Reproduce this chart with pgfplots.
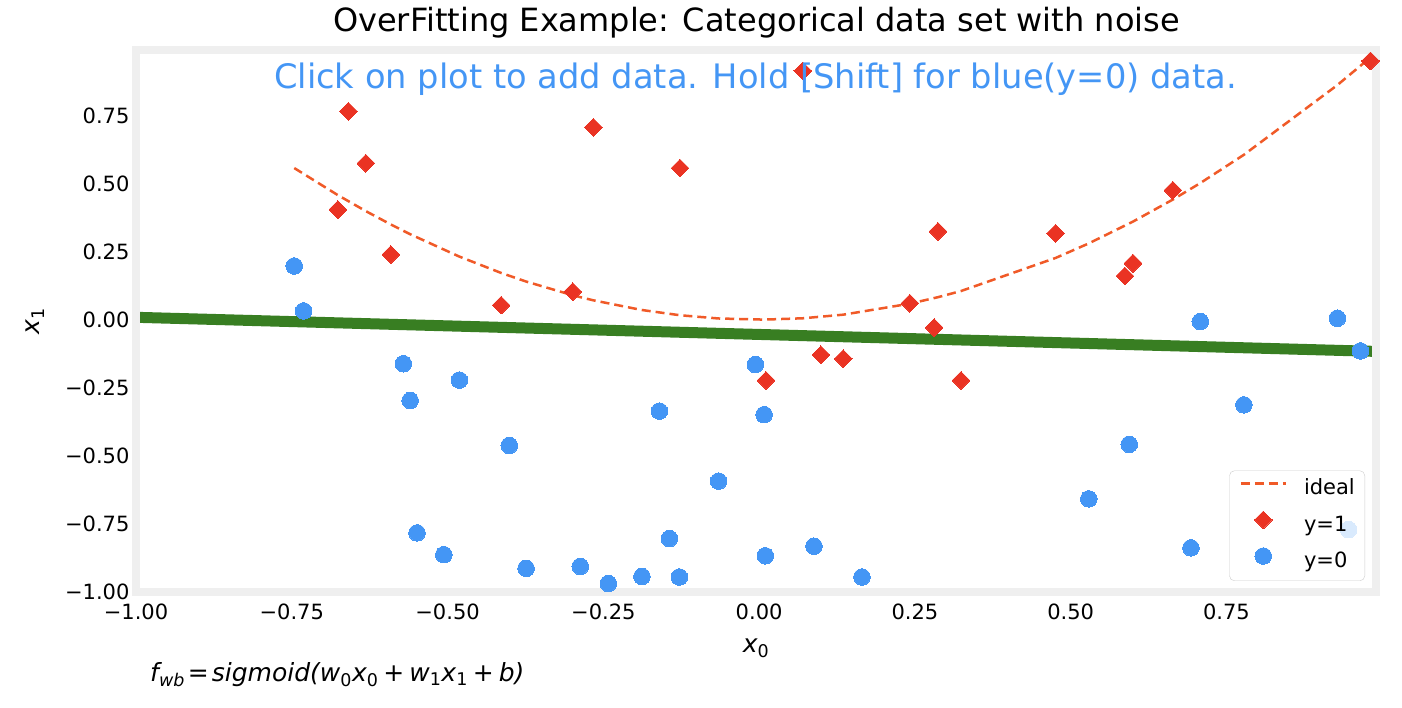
\documentclass[border=0pt]{standalone}
\usepackage{fontspec}
\setmainfont{DejaVu Sans}
\usepackage{pgfplots}
\pgfplotsset{compat=1.18}
\definecolor{ptblue}{HTML}{4496F5}
\definecolor{ptred}{HTML}{EA3323}
\definecolor{ptgreen}{HTML}{387E22}
\definecolor{ptorange}{HTML}{F05A28}
\definecolor{spine}{HTML}{EFEFEF}
\newcommand{\fs}[1]{\fontsize{#1}{#1}\selectfont}
\newcommand{\mi}[1]{{\itshape #1}}
\pgfplotsset{
  linelegend/.style={legend image code/.code={\draw[##1, draw opacity=1] (0pt,6pt) -- (45pt,6pt);}},
  marklegend/.style={legend image code/.code={\path[draw=none,fill=none] (0pt,6pt) -- (45pt,6pt); \draw[##1,only marks,fill opacity=1,draw opacity=1,mark repeat=2,mark phase=2] plot coordinates {(0pt,6pt) (22.5pt,6pt) (45pt,6pt)};}},
}

\pgfplotstableread{
x y
-0.659 0.765
-0.631 0.574
-0.676 0.404
-0.591 0.239
-0.414 0.053
-0.299 0.103
-0.266 0.706
-0.127 0.556
0.070 0.913
0.011 -0.223
0.099 -0.129
0.135 -0.143
0.242 0.060
0.281 -0.029
0.287 0.324
0.324 -0.223
0.476 0.317
0.587 0.160
0.600 0.207
0.664 0.475
0.981 0.950
}\posdata

\pgfplotstableread{
x y
-0.746 0.197
-0.731 0.032
-0.571 -0.162
-0.560 -0.297
-0.481 -0.222
-0.401 -0.462
-0.549 -0.783
-0.506 -0.863
-0.374 -0.913
-0.287 -0.906
-0.242 -0.969
-0.188 -0.943
-0.128 -0.945
-0.144 -0.804
-0.160 -0.336
-0.065 -0.593
-0.006 -0.165
0.008 -0.349
0.010 -0.867
0.088 -0.832
0.165 -0.945
0.529 -0.658
0.594 -0.458
0.693 -0.838
0.708 -0.007
0.778 -0.313
0.928 0.005
0.965 -0.115
0.946 -0.771
}\negdata

\pgfplotstableread{
x y
-0.746 0.5565
-0.676 0.4570
-0.631 0.3982
-0.591 0.3493
-0.560 0.3136
-0.481 0.2314
-0.414 0.1714
-0.374 0.1399
-0.299 0.0894
-0.266 0.0708
-0.188 0.0353
-0.127 0.0161
-0.065 0.0042
0.008 0.0001
0.070 0.0049
0.135 0.0182
0.242 0.0586
0.287 0.0824
0.324 0.1050
0.476 0.2266
0.529 0.2798
0.600 0.3600
0.664 0.4409
0.708 0.5013
0.778 0.6053
0.928 0.8612
0.981 0.9624
0.995 0.9900
}\ideal

\begin{document}
\begin{tikzpicture}
\useasboundingbox (-136pt,-116pt) rectangle (1266pt,592pt);
\begin{axis}[
  scale only axis, width=1240pt, height=542pt,
  at={(0pt,0pt)}, anchor=south west,
  xmin=-1, xmax=0.99, ymin=-1, ymax=0.99,
  axis on top,
  axis line style={draw=spine, line width=8pt},
  major tick length=0pt, tick style={draw=none},
  xtick={-1,-0.75,-0.5,-0.25,0,0.25,0.5,0.75},
  xticklabels={−1.00,−0.75,−0.50,−0.25,0.00,0.25,0.50,0.75},
  ytick={-1,-0.75,-0.5,-0.25,0,0.25,0.5,0.75},
  yticklabels={−1.00,−0.75,−0.50,−0.25,0.00,0.25,0.50,0.75},
  ticklabel style={font=\fs{21}},
  xticklabel style={yshift=-8pt},
  yticklabel style={xshift=-3pt},
  legend style={at={(0.99113,0.0203)}, anchor=south east,
    draw=black!20, rounded corners=5pt, fill=white, fill opacity=0.8, text opacity=1,
    font=\fs{21}, inner xsep=10pt, inner ysep=8.5pt, row sep=11.5pt,
    nodes={inner sep=0pt, text height=15.5pt, text depth=5pt},
    /tikz/every odd column/.style={column sep=17pt}},
  legend cell align=left,
]
\addplot[ptorange, line width=2.5pt, dash pattern=on 9pt off 5pt, linelegend]
  table[x=x,y=y] {\ideal};
\addlegendentry{ideal}
\addplot[only marks, mark=square*, mark size=6.2pt,
  mark options={rotate=45, draw=ptred, fill=ptred, line width=0pt}, marklegend]
  table[x=x,y=y] {\posdata};
\addlegendentry{y=1}
\addplot[only marks, mark=*, mark size=8.3pt,
  mark options={draw=ptblue, fill=ptblue, line width=0pt}, marklegend]
  table[x=x,y=y] {\negdata};
\addlegendentry{y=0}
\addplot[ptgreen, line width=11pt, forget plot] coordinates {(-1.02,0.0098) (1.01,-0.1179)};
\addplot[only marks, mark=square*, mark size=6.2pt, forget plot,
  mark options={rotate=45, draw=ptred, fill=ptred, line width=0pt}]
  table[x=x,y=y] {\posdata};
\end{axis}
\node[anchor=base, font=\fs{32}, inner sep=0pt] at (620.5pt,560.3pt) {OverFitting Example: Categorical data set with noise};
\node[anchor=base, font=\fs{33.7}, text=ptblue, inner sep=0pt] at (619.5pt,503.7pt) {Click on plot to add data. Hold [Shift] for blue(y=0) data.};
\node[anchor=base, font=\fs{25}, inner sep=0pt] at (620pt,-61pt) {\mi{x}\textsubscript{0}};
\node[anchor=base, font=\fs{25}, inner sep=0pt, rotate=90] at (-96pt,271pt) {\mi{x}\textsubscript{1}};
\node[anchor=base west, font=\fs{25}, inner sep=0pt] at (14pt,-89.7pt) {\mi{f}\textsubscript{\mi{wb}}\hspace{0.12em}=\hspace{0.12em}\mi{sigmoid(w}\textsubscript{0}\mi{x}\textsubscript{0}\hspace{0.2em}+\hspace{0.2em}\mi{w}\textsubscript{1}\mi{x}\textsubscript{1}\hspace{0.2em}+\hspace{0.2em}\mi{b)}};
\end{tikzpicture}
\end{document}
